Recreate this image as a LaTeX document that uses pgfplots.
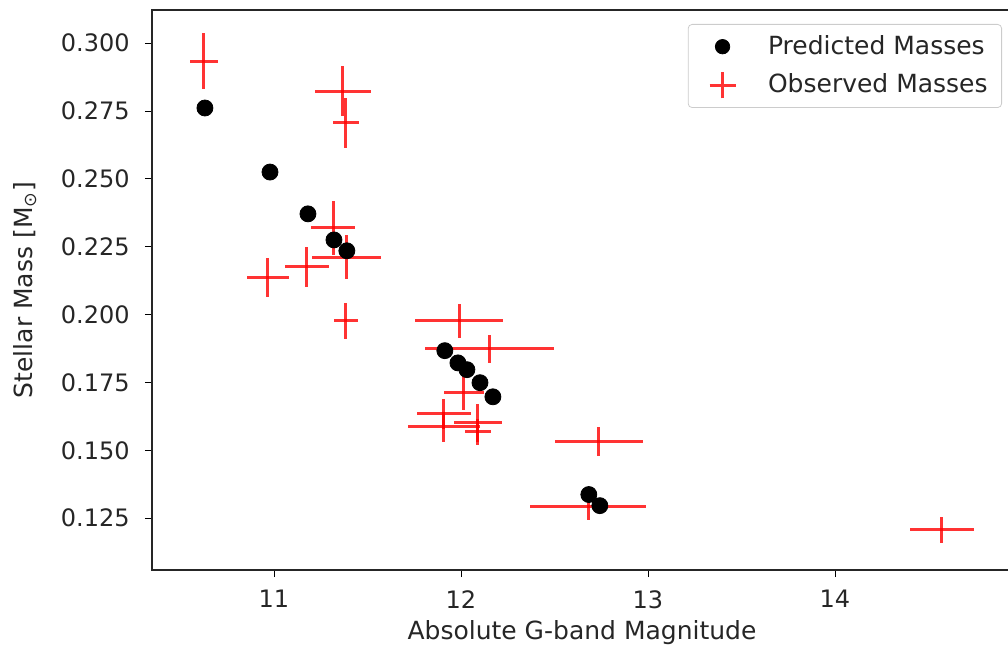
\documentclass[border=0pt]{standalone}
\usepackage{pgfplots}
\pgfplotsset{compat=1.18}
\usepackage{fontspec}
\setmainfont{DejaVu Sans}
\pgfplotstableread{
x y
10.631 0.2761
10.979 0.2525
11.182 0.2371
11.321 0.2275
11.390 0.2235
11.914 0.1867
11.984 0.1822
12.032 0.1797
12.102 0.1749
12.171 0.1697
12.684 0.1337
12.743 0.1296
}\predicted
\pgfplotstableread{
x y ex ey
10.626 0.2934 0.075 0.0103
11.369 0.2823 0.150 0.0093
11.385 0.2706 0.070 0.0092
11.316 0.2319 0.118 0.0100
11.390 0.2212 0.185 0.0081
11.176 0.2176 0.116 0.0074
10.968 0.2135 0.112 0.0072
11.385 0.1977 0.062 0.0066
11.990 0.1977 0.234 0.0063
12.155 0.1874 0.345 0.0052
12.016 0.1712 0.105 0.0064
11.909 0.1635 0.144 0.0055
11.909 0.1587 0.193 0.0055
12.091 0.1602 0.128 0.0070
12.091 0.1568 0.070 0.0048
12.738 0.1532 0.234 0.0052
12.680 0.1292 0.310 0.0048
14.572 0.1208 0.171 0.0048
}\observed
\begin{document}
\fontsize{12pt}{14pt}\selectfont
\begin{tikzpicture}
\useasboundingbox (-76pt,-42pt) rectangle (428pt,285pt);
\begin{axis}[
  at={(0,0)}, anchor=south west,
  scale only axis, width=430pt, height=280pt,
  xmin=10.348, xmax=14.947, ymin=0.1059, ymax=0.3122,
  xtick={11,12,13,14},
  ytick={0.125,0.150,0.175,0.200,0.225,0.250,0.275,0.300},
  yticklabel style={xshift=-3.5pt, /pgf/number format/.cd, fixed, fixed zerofill, precision=3},
  /pgf/number format/assume math mode=true,
  tick align=outside, tick pos=left,
  major tick length=3.5pt,
  tick style={black, line width=0.4pt},
  axis line style={line width=0.8pt, black!85},
  ticklabel style={font=\fontsize{12pt}{14pt}\selectfont, text=black!85},
  xticklabel style={yshift=-2.5pt},
  label style={font=\fontsize{12.5pt}{14pt}\selectfont, text=black!85},
  xlabel={Absolute G-band Magnitude},
  ylabel={Stellar Mass [M\textsubscript{⊙}]},
  xlabel style={at={([yshift=-31.5pt]axis description cs:0.5,0)}, anchor=center},
  ylabel style={at={([xshift=-63.5pt]axis description cs:0,0.5)}, anchor=center},
  legend cell align=left,
  legend style={at={(axis description cs:0.9884,0.9750)}, anchor=north east,
    draw=black!20, rounded corners=2pt, font=\fontsize{12.5pt}{14pt}\selectfont,
    row sep=4pt, inner xsep=5pt, inner ysep=3.5pt, text=black!85},
]
\addplot[only marks, mark=*, mark size=4pt, black,
  legend image code/.code={\path (0.25cm-12pt,0); \fill[black] (0.25cm,0) circle (3.6pt);}]
  table[x=x, y=y] {\predicted};
\addlegendentry{\hspace{13.5pt}Predicted Masses}
\addplot[draw=none, mark=none,
  legend image code/.code={\path (0.25cm-12pt,0); \draw[red, opacity=0.8, line width=1.5pt] (0.25cm,-6.5pt) -- (0.25cm,6.5pt) (0.25cm-6.5pt,0) -- (0.25cm+6.5pt,0);},
  error bars/.cd, x dir=both, x explicit, y dir=both, y explicit,
  error mark=none, error bar style={line width=1.5pt, red, opacity=0.8}]
  table[x=x, y=y, x error=ex, y error=ey] {\observed};
\addlegendentry{\hspace{13.5pt}Observed Masses}
\end{axis}
\end{tikzpicture}
\end{document}
